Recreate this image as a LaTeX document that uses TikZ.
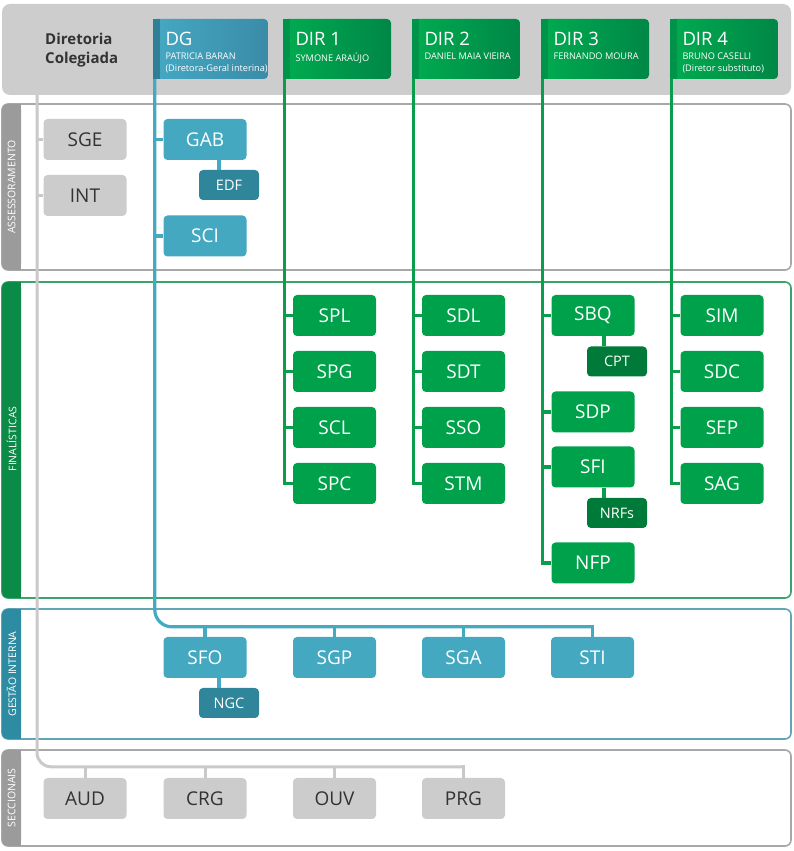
\documentclass[tikz,border=0pt]{standalone}
\usepackage{fontspec}
\setmainfont{Open Sans}
\definecolor{hdrgray}{HTML}{CDCDCD}
\definecolor{boxgray}{HTML}{CCCCCC}
\definecolor{linegray}{HTML}{C9C9C9}
\definecolor{txtgray}{HTML}{333333}
\definecolor{tabgray}{HTML}{9B9B9B}
\definecolor{bordergray}{HTML}{A8A8A8}
\definecolor{boxgreen}{HTML}{00A14B}
\definecolor{linegreen}{HTML}{0A9D4A}
\definecolor{darkgreen}{HTML}{007A38}
\definecolor{tabgreen}{HTML}{0B8B47}
\definecolor{bordergreen}{HTML}{3AA46A}
\definecolor{dirleft}{HTML}{00AB50}
\definecolor{dirright}{HTML}{008746}
\definecolor{dirstrip}{HTML}{00944A}
\definecolor{boxblue}{HTML}{44A8C0}
\definecolor{lineblue}{HTML}{45A9C2}
\definecolor{darkblue}{HTML}{2F869B}
\definecolor{tabblue}{HTML}{2E8CA2}
\definecolor{borderblue}{HTML}{62A6B5}
\definecolor{dgleft}{HTML}{45A8C3}
\definecolor{dgright}{HTML}{3A8CA8}
\definecolor{dgstrip}{HTML}{2F8097}

\begin{document}
\begin{tikzpicture}[x=1pt, y=1pt,
  box/.style={rounded corners=4, inner sep=0, minimum width=83, minimum height=41,
    font=\fontsize{19}{19}\selectfont},
  graybox/.style={box, fill=boxgray, text=txtgray},
  greenbox/.style={box, fill=boxgreen, text=white},
  bluebox/.style={box, fill=boxblue, text=white},
  subbox/.style={rounded corners=4, inner sep=0, minimum width=60, minimum height=30,
    text=white, font=\fontsize{14.5}{14.5}\selectfont},
  hdrbox/.style={rounded corners=4, inner sep=0, minimum width=108, minimum height=60},
  hdrtitle/.style={anchor=base west, inner sep=0, text=white, font=\fontsize{18.5}{18.5}\selectfont},
  hdrsub/.style={anchor=north west, inner sep=0, text=white, align=left,
    font=\fontsize{9.2}{12.5}\selectfont},
  tablabel/.style={rotate=90, text=white, inner sep=0, font=\fontsize{10.5}{10.5}\selectfont},
  grayline/.style={draw=linegray, line width=3},
  blueline/.style={draw=lineblue, line width=3.2},
  greenline/.style={draw=linegreen, line width=3.2}]
  \useasboundingbox (0,0) rectangle (793,851);

  % header band
  \fill[hdrgray, rounded corners=8] (2,756) rectangle (791,847);
  \node[anchor=north west, inner sep=0, text=txtgray, align=left,
    font=\bfseries\fontsize{15}{19}\selectfont] (colegiada) at (45,818) {Diretoria\\Colegiada};

  % assessoramento
  \draw[bordergray, line width=1.6, rounded corners=6] (2,581) rectangle (791,747);
  \fill[tabgray, rounded corners=6] (2,581) rectangle (21,747);
  \fill[tabgray] (12,581) rectangle (21,747);
  \node[tablabel] (assess) at (11.5,664) {ASSESSORAMENTO};

  % finalisticas
  \draw[bordergreen, line width=1.6, rounded corners=6] (2,253) rectangle (791,569);
  \fill[tabgreen, rounded corners=6] (2,253) rectangle (21,569);
  \fill[tabgreen] (12,253) rectangle (21,569);
  \node[tablabel] (final) at (11.5,412) {FINALÍSTICAS};

  % gestao interna
  \draw[borderblue, line width=1.6, rounded corners=6] (2,112) rectangle (791,242);
  \fill[tabblue, rounded corners=6] (2,112) rectangle (21,242);
  \fill[tabblue] (12,112) rectangle (21,242);
  \node[tablabel] (gestao) at (11.5,177) {GESTÃO INTERNA};

  % seccionais
  \draw[bordergray, line width=1.6, rounded corners=6] (2,5) rectangle (791,101);
  \fill[tabgray, rounded corners=6] (2,5) rectangle (21,101);
  \fill[tabgray] (12,5) rectangle (21,101);
  \node[tablabel] (secc) at (11.5,53) {SECCIONAIS};

  % directors
  \node[hdrbox, minimum width=115, left color=dgleft, right color=dgright] (dg) at (210.5,802) {};
  \fill[dgstrip] (dg.north west) rectangle ([xshift=7]dg.south west);
  \node[hdrtitle] (dgname) at ([shift={(12.5,-27)}]dg.north west) {DG};
  \node[hdrsub] (dgsub) at ([shift={(12.5,-33.7)}]dg.north west) {PATRICIA BARAN\\(Diretora-Geral interina)};

  \node[hdrbox, left color=dirleft, right color=dirright] (dir1) at (337,802) {};
  \fill[dirstrip] (dir1.north west) rectangle ([xshift=7]dir1.south west);
  \node[hdrtitle] (dir1name) at ([shift={(12.5,-27)}]dir1.north west) {DIR 1};
  \node[hdrsub] (dir1sub) at ([shift={(12.5,-33.7)}]dir1.north west) {SYMONE ARAÚJO};

  \node[hdrbox, left color=dirleft, right color=dirright] (dir2) at (466,802) {};
  \fill[dirstrip] (dir2.north west) rectangle ([xshift=7]dir2.south west);
  \node[hdrtitle] (dir2name) at ([shift={(12.5,-27)}]dir2.north west) {DIR 2};
  \node[hdrsub] (dir2sub) at ([shift={(12.5,-33.7)}]dir2.north west) {DANIEL MAIA VIEIRA};

  \node[hdrbox, left color=dirleft, right color=dirright] (dir3) at (595,802) {};
  \fill[dirstrip] (dir3.north west) rectangle ([xshift=7]dir3.south west);
  \node[hdrtitle] (dir3name) at ([shift={(12.5,-27)}]dir3.north west) {DIR 3};
  \node[hdrsub] (dir3sub) at ([shift={(12.5,-33.7)}]dir3.north west) {FERNANDO MOURA};

  \node[hdrbox, left color=dirleft, right color=dirright] (dir4) at (724,802) {};
  \fill[dirstrip] (dir4.north west) rectangle ([xshift=7]dir4.south west);
  \node[hdrtitle] (dir4name) at ([shift={(12.5,-27)}]dir4.north west) {DIR 4};
  \node[hdrsub] (dir4sub) at ([shift={(12.5,-33.7)}]dir4.north west) {BRUNO CASELLI\\(Diretor substituto)};

  % assessoramento units
  \node[graybox] (sge) at (85,711.5) {SGE};
  \node[graybox] (int) at (85,655.5) {INT};
  \node[bluebox] (gab) at (205,711.5) {GAB};
  \node[subbox, fill=darkblue] (edf) at (229,666) {EDF};
  \node[bluebox] (sci) at (205,615) {SCI};

  % finalisticas units
  \node[greenbox] (spl) at (334.5,535.5) {SPL};
  \node[greenbox] (spg) at (334.5,479.5) {SPG};
  \node[greenbox] (scl) at (334.5,423.5) {SCL};
  \node[greenbox] (spc) at (334.5,367.5) {SPC};

  \node[greenbox] (sdl) at (463.5,535.5) {SDL};
  \node[greenbox] (sdt) at (463.5,479.5) {SDT};
  \node[greenbox] (sso) at (463.5,423.5) {SSO};
  \node[greenbox] (stm) at (463.5,367.5) {STM};

  \node[greenbox] (sbq) at (593,535.5) {SBQ};
  \node[subbox, fill=darkgreen] (cpt) at (617,489.5) {CPT};
  \node[greenbox] (sdp) at (593,439) {SDP};
  \node[greenbox] (sfi) at (593,384) {SFI};
  \node[subbox, fill=darkgreen] (nrfs) at (617,338) {NRFs};
  \node[greenbox] (nfp) at (593,288) {NFP};

  \node[greenbox] (sim) at (722,535.5) {SIM};
  \node[greenbox] (sdc) at (722,479.5) {SDC};
  \node[greenbox] (sep) at (722,423.5) {SEP};
  \node[greenbox] (sag) at (722,367.5) {SAG};

  % gestao interna units
  \node[bluebox] (sfo) at (205,193.5) {SFO};
  \node[subbox, fill=darkblue] (ngc) at (229,148) {NGC};
  \node[bluebox] (sgp) at (334.5,193.5) {SGP};
  \node[bluebox] (sga) at (463.5,193.5) {SGA};
  \node[bluebox] (sti) at (592.5,193.5) {STI};

  % seccionais units
  \node[graybox] (aud) at (85,52.5) {AUD};
  \node[graybox] (crg) at (205,52.5) {CRG};
  \node[graybox] (ouv) at (334.5,52.5) {OUV};
  \node[graybox] (prg) at (463.5,52.5) {PRG};

  % gray trunk
  \coordinate (graytop) at (37,756);
  \coordinate (graybus) at ([yshift=11]prg.north);
  \draw[grayline, rounded corners=14] (graytop) |- (graybus);
  \draw[grayline, line cap=rect] (prg.north) -- (graybus);
  \draw[grayline] (aud.north) -- (aud.north |- graybus);
  \draw[grayline] (crg.north) -- (crg.north |- graybus);
  \draw[grayline] (ouv.north) -- (ouv.north |- graybus);
  \draw[grayline] (sge.west) -- (sge.west -| graytop);
  \draw[grayline] (int.west) -- (int.west -| graytop);

  % DG trunk
  \coordinate (dgfoot) at ([xshift=2]dg.south west);
  \coordinate (bluebus) at ([yshift=10]sti.north);
  \draw[blueline, rounded corners=17] (dgfoot) |- (bluebus);
  \draw[blueline, line cap=rect] (sti.north) -- (bluebus);
  \draw[blueline] (sfo.north) -- (sfo.north |- bluebus);
  \draw[blueline] (sgp.north) -- (sgp.north |- bluebus);
  \draw[blueline] (sga.north) -- (sga.north |- bluebus);
  \draw[blueline] (gab.west) -- (gab.west -| dgfoot);
  \draw[blueline] (sci.west) -- (sci.west -| dgfoot);
  \draw[blueline] ([xshift=-10]edf.north) -- ([xshift=-10]edf.north |- gab.south);
  \draw[blueline] ([xshift=-10]ngc.north) -- ([xshift=-10]ngc.north |- sfo.south);

  % DIR 1
  \coordinate (d1foot) at ([xshift=2]dir1.south west);
  \draw[greenline] (d1foot) |- (spc.west);
  \draw[greenline] (spl.west) -- (spl.west -| d1foot);
  \draw[greenline] (spg.west) -- (spg.west -| d1foot);
  \draw[greenline] (scl.west) -- (scl.west -| d1foot);

  % DIR 2
  \coordinate (d2foot) at ([xshift=2]dir2.south west);
  \draw[greenline] (d2foot) |- (stm.west);
  \draw[greenline] (sdl.west) -- (sdl.west -| d2foot);
  \draw[greenline] (sdt.west) -- (sdt.west -| d2foot);
  \draw[greenline] (sso.west) -- (sso.west -| d2foot);

  % DIR 3
  \coordinate (d3foot) at ([xshift=2]dir3.south west);
  \draw[greenline] (d3foot) |- (nfp.west);
  \draw[greenline] (sbq.west) -- (sbq.west -| d3foot);
  \draw[greenline] (sdp.west) -- (sdp.west -| d3foot);
  \draw[greenline] (sfi.west) -- (sfi.west -| d3foot);
  \draw[greenline] ([xshift=-13]cpt.north) -- ([xshift=-13]cpt.north |- sbq.south);
  \draw[greenline] ([xshift=-13]nrfs.north) -- ([xshift=-13]nrfs.north |- sfi.south);

  % DIR 4
  \coordinate (d4foot) at ([xshift=2]dir4.south west);
  \draw[greenline] (d4foot) |- (sag.west);
  \draw[greenline] (sim.west) -- (sim.west -| d4foot);
  \draw[greenline] (sdc.west) -- (sdc.west -| d4foot);
  \draw[greenline] (sep.west) -- (sep.west -| d4foot);
\end{tikzpicture}
\end{document}
